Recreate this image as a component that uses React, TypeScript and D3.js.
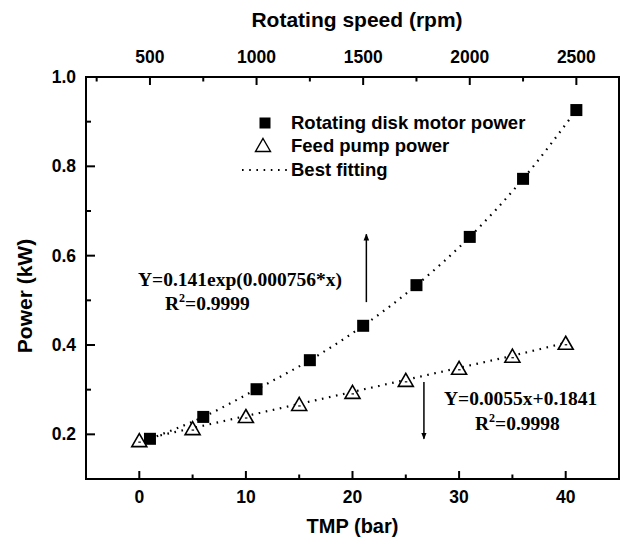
import React from "react";
import * as d3 from "d3";

// ---- data ----
const rpm = [500, 750, 1000, 1250, 1500, 1750, 2000, 2250, 2500];
const motorPower = [0.19, 0.239, 0.301, 0.366, 0.443, 0.534, 0.642, 0.772, 0.926];
const tmp = [0, 5, 10, 15, 20, 25, 30, 35, 40];
const pumpPower = [0.187, 0.214, 0.241, 0.268, 0.295, 0.322, 0.349, 0.376, 0.405];

const bottomMajor = [0, 10, 20, 30, 40];
const bottomMinor = [5, 15, 25, 35];
const topMajor = [500, 1000, 1500, 2000, 2500];
const topMinor = [250, 750, 1250, 1750, 2250];
const leftMajor = [0.2, 0.4, 0.6, 0.8, 1.0];
const leftMinor = [0.3, 0.5, 0.7, 0.9];

const legendLabels = ["Rotating disk motor power", "Feed pump power", "Best fitting"];
const expEq = "Y=0.141exp(0.000756*x)";
const expR2 = "=0.9999";
const linEq = "Y=0.0055x+0.1841";
const linR2 = "=0.9998";

const W = 625, H = 539;
const L = 86, R = 619, T = 77, B = 479;

export default function App() {
  const x = d3.scaleLinear().domain([-5, 45]).range([L, R]);
  const xTop = d3.scaleLinear().domain([200, 2700]).range([L, R]);
  const y = d3.scaleLinear().domain([0.1, 1.0]).range([B, T]);

  const motorLine = d3
    .line<number>()
    .x((_, i) => xTop(rpm[i]))
    .y((d) => y(d))
    .curve(d3.curveMonotoneX)(motorPower) as string;
  const pumpLine = d3
    .line<number>()
    .x((_, i) => x(tmp[i]))
    .y((d) => y(d))
    .curve(d3.curveMonotoneX)(pumpPower) as string;

  const sans = "'Liberation Sans', Arial, sans-serif";
  const serif = "'Liberation Serif', 'Times New Roman', serif";
  const tri = "M0,-6.5L7.5,6.5L-7.5,6.5Z";
  const dots = { stroke: "#000", strokeWidth: 2.2, strokeDasharray: "1.6 5.6", fill: "none" };

  return (
    <div style={{ position: "absolute", left: 0, top: 0 }}>
      <svg width={W} height={H} style={{ display: "block", background: "#fff" }}>
        <defs>
          <marker id="ah" viewBox="0 0 10 10" refX="9" refY="5" markerWidth="7" markerHeight="9" orient="auto-start-reverse" markerUnits="userSpaceOnUse">
            <path d="M0,1L10,5L0,9Z" fill="#000" />
          </marker>
        </defs>

        {/* fit lines */}
        <path d={motorLine} {...dots} />
        <path d={pumpLine} {...dots} />

        {/* markers */}
        {motorPower.map((v, i) => (
          <rect key={"s" + i} x={xTop(rpm[i]) - 6} y={y(v) - 6} width={12} height={12} fill="#000" />
        ))}
        {pumpPower.map((v, i) => (
          <g key={"t" + i} transform={`translate(${x(tmp[i])},${y(v)})`}>
            <path d={tri} fill="#fff" stroke="#000" strokeWidth={1.6} />
            <line x1={-1} x2={1.5} y1={2} y2={2} stroke="#000" strokeWidth={1.2} />
          </g>
        ))}

        {/* frame */}
        <rect x={L} y={T} width={R - L} height={B - T} fill="none" stroke="#000" strokeWidth={2} />

        {/* bottom axis */}
        {bottomMajor.map((t) => (
          <g key={"bM" + t}>
            <line x1={x(t)} x2={x(t)} y1={B} y2={B - 8} stroke="#000" strokeWidth={2} />
            <text x={x(t)} y={503} textAnchor="middle" fontFamily={sans} fontWeight="bold" fontSize={17.5}>{t}</text>
          </g>
        ))}
        {bottomMinor.map((t) => (
          <line key={"bm" + t} x1={x(t)} x2={x(t)} y1={B} y2={B - 4.5} stroke="#000" strokeWidth={2} />
        ))}
        <text x={(L + R) / 2} y={533} textAnchor="middle" fontFamily={sans} fontWeight="bold" fontSize={20}>TMP (bar)</text>

        {/* top axis */}
        {topMajor.map((t) => (
          <g key={"tM" + t}>
            <line x1={xTop(t)} x2={xTop(t)} y1={T} y2={T + 8} stroke="#000" strokeWidth={2} />
            <text x={xTop(t)} y={63} textAnchor="middle" fontFamily={sans} fontWeight="bold" fontSize={17.5}>{t}</text>
          </g>
        ))}
        {topMinor.map((t) => (
          <line key={"tm" + t} x1={xTop(t)} x2={xTop(t)} y1={T} y2={T + 4.5} stroke="#000" strokeWidth={2} />
        ))}
        <text x={357} y={27} textAnchor="middle" fontFamily={sans} fontWeight="bold" fontSize={21}>Rotating speed (rpm)</text>

        {/* left axis */}
        {leftMajor.map((t) => (
          <g key={"lM" + t}>
            <line x1={L} x2={L + 9} y1={y(t)} y2={y(t)} stroke="#000" strokeWidth={2} />
            <text x={76} y={y(t) + 6} textAnchor="end" fontFamily={sans} fontWeight="bold" fontSize={17.5}>{t.toFixed(1)}</text>
          </g>
        ))}
        {leftMinor.map((t) => (
          <line key={"lm" + t} x1={L} x2={L + 5} y1={y(t)} y2={y(t)} stroke="#000" strokeWidth={2} />
        ))}
        <text transform={`translate(32,${296}) rotate(-90)`} textAnchor="middle" fontFamily={sans} fontWeight="bold" fontSize={21}>Power (kW)</text>

        {/* legend */}
        <rect x={259.5} y={117.5} width={11} height={11} fill="#000" />
        <text x={291} y={129} fontFamily={sans} fontWeight="bold" fontSize={18.5}>{legendLabels[0]}</text>
        <g transform="translate(263,145)">
          <path d={tri} fill="#fff" stroke="#000" strokeWidth={1.4} />
        </g>
        <text x={291} y={152} fontFamily={sans} fontWeight="bold" fontSize={18.5}>{legendLabels[1]}</text>
        <line x1={242} x2={288} y1={170} y2={170} {...dots} />
        <text x={291} y={176} fontFamily={sans} fontWeight="bold" fontSize={18.5}>{legendLabels[2]}</text>

        {/* annotations */}
        <line x1={x(21.3)} x2={x(21.3)} y1={y(0.496)} y2={y(0.648)} stroke="#000" strokeWidth={1.5} markerEnd="url(#ah)" />
        <text x={138} y={286} fontFamily={serif} fontWeight="bold" fontSize={19.5}>{expEq}</text>
        <text x={165} y={310} fontFamily={serif} fontWeight="bold" fontSize={19.5}>
          R<tspan dy={-8} fontSize={12}>2</tspan><tspan dy={8}>{expR2}</tspan>
        </text>

        <line x1={x(26.7)} x2={x(26.7)} y1={y(0.317)} y2={y(0.19)} stroke="#000" strokeWidth={1.5} markerEnd="url(#ah)" />
        <text x={444} y={405} fontFamily={serif} fontWeight="bold" fontSize={19.5}>{linEq}</text>
        <text x={475} y={430} fontFamily={serif} fontWeight="bold" fontSize={19.5}>
          R<tspan dy={-8} fontSize={12}>2</tspan><tspan dy={8}>{linR2}</tspan>
        </text>
      </svg>
    </div>
  );
}
